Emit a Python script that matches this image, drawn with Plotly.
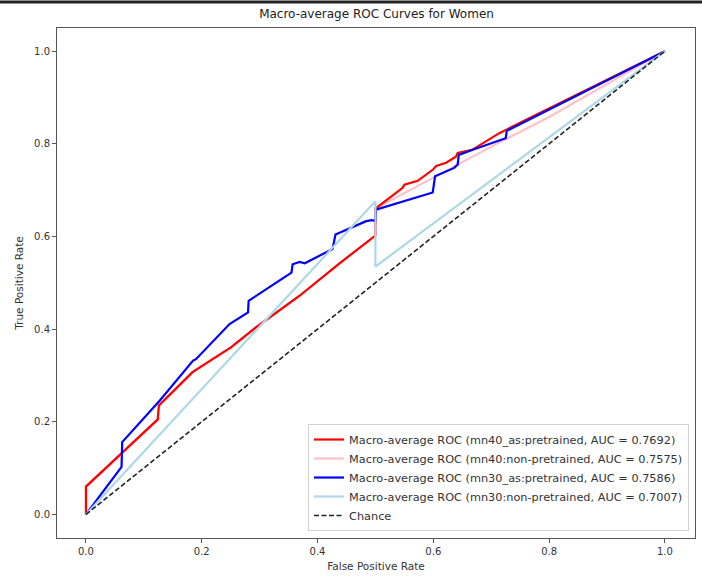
import plotly.graph_objects as go

# ---- data ----
red_fpr = [0.0, 0.0, 0.124, 0.126, 0.184, 0.251, 0.294, 0.369, 0.438, 0.5, 0.5, 0.53, 0.547, 0.55, 0.573, 0.6, 0.605, 0.622, 0.639, 0.642, 0.667, 0.714, 1.0]
red_tpr = [0.0, 0.06, 0.205, 0.235, 0.307, 0.361, 0.404, 0.472, 0.542, 0.602, 0.66, 0.69, 0.705, 0.712, 0.72, 0.745, 0.752, 0.759, 0.772, 0.78, 0.787, 0.823, 1.0]

pink_fpr = [0.0, 0.0, 0.124, 0.126, 0.184, 0.251, 0.294, 0.369, 0.438, 0.5, 0.5, 0.691, 0.8, 1.0]
pink_tpr = [0.0, 0.06, 0.205, 0.235, 0.307, 0.361, 0.404, 0.472, 0.542, 0.602, 0.66, 0.788, 0.858, 1.0]

blue_fpr = [0.0, 0.0615, 0.0626, 0.1276, 0.185, 0.19, 0.248, 0.28, 0.281, 0.355, 0.357, 0.369, 0.378, 0.426, 0.431, 0.484, 0.494, 0.5, 0.501, 0.524, 0.553, 0.599, 0.603, 0.636, 0.642, 0.644, 0.668, 0.714, 0.725, 0.727, 1.0]
blue_tpr = [0.0, 0.1026, 0.156, 0.246, 0.332, 0.335, 0.411, 0.436, 0.461, 0.522, 0.54, 0.545, 0.542, 0.573, 0.604, 0.633, 0.635, 0.633, 0.658, 0.667, 0.678, 0.695, 0.73, 0.748, 0.755, 0.776, 0.787, 0.806, 0.812, 0.828, 1.0]

lblue_fpr = [0.0, 0.5, 0.5, 1.0]
lblue_tpr = [0.0, 0.676, 0.535, 1.0]

chance_x = [0.0, 1.0]
chance_y = [0.0, 1.0]

names = [
    "Macro-average ROC (mn40_as:pretrained, AUC = 0.7692)",
    "Macro-average ROC (mn40:non-pretrained, AUC = 0.7575)",
    "Macro-average ROC (mn30_as:pretrained, AUC = 0.7586)",
    "Macro-average ROC (mn30:non-pretrained, AUC = 0.7007)",
    "Chance",
]

x_ticks = [0.0, 0.2, 0.4, 0.6, 0.8, 1.0]
y_ticks = [0.0, 0.2, 0.4, 0.6, 0.8, 1.0]
x_ticktext = ["0.0", "0.2", "0.4", "0.6", "0.8", "1.0"]
y_ticktext = ["0.0", "0.2", "0.4", "0.6", "0.8", "1.0"]

FONT = "DejaVu Sans"

fig = go.Figure()
fig.add_trace(go.Scatter(x=pink_fpr, y=pink_tpr, mode="lines", name=names[1], legendrank=2,
                         line=dict(color="#FFC0CB", width=2.2)))
fig.add_trace(go.Scatter(x=red_fpr, y=red_tpr, mode="lines", name=names[0], legendrank=1,
                         line=dict(color="#FF0000", width=2.2)))
fig.add_trace(go.Scatter(x=blue_fpr, y=blue_tpr, mode="lines", name=names[2], legendrank=3,
                         line=dict(color="#0000FF", width=2.2)))
fig.add_trace(go.Scatter(x=lblue_fpr, y=lblue_tpr, mode="lines", name=names[3], legendrank=4,
                         line=dict(color="#ADD8E6", width=2.2)))
fig.add_trace(go.Scatter(x=chance_x, y=chance_y, mode="lines", name=names[4], legendrank=5,
                         line=dict(color="#222222", width=1.6, dash="5px,2.5px")))

axis_common = dict(showline=True, linecolor="#555555", linewidth=1, mirror=True,
                   showgrid=False, zeroline=False, ticks="outside", ticklen=4,
                   tickcolor="#555555", tickfont=dict(family=FONT, size=10, color="#333333"))

fig.update_layout(
    width=702, height=576,
    margin=dict(l=57, r=6, t=28, b=36),
    paper_bgcolor="white", plot_bgcolor="white",
    font=dict(family=FONT, color="#222222"),
    title=dict(text="Macro-average ROC Curves for Women", x=(57 + 639 / 2) / 702, xanchor="center",
               y=1 - 14 / 576, yanchor="middle", font=dict(family=FONT, size=12, color="#222222")),
    xaxis=dict(range=[-0.05, 1.052], tickvals=x_ticks, ticktext=x_ticktext,
               title=dict(text="False Positive Rate", font=dict(family=FONT, size=10.5, color="#333333"), standoff=6),
               **axis_common),
    yaxis=dict(range=[-0.051, 1.05], tickvals=y_ticks, ticktext=y_ticktext,
               title=dict(text="True Positive Rate", font=dict(family=FONT, size=10.5, color="#333333"), standoff=8),
               **axis_common),
    legend=dict(x=0.9906, xanchor="right", y=0.0137, yanchor="bottom",
                bgcolor="rgba(255,255,255,0.85)", bordercolor="#d0d0d0", borderwidth=1,
                font=dict(family=FONT, size=11.3, color="#333333"), tracegroupgap=0,
                itemwidth=30),
    showlegend=True,
)

# dark band at the very top of the screenshot
fig.add_shape(type="line", xref="paper", yref="paper", x0=-0.2, x1=1.2,
              y0=(540 - 2) / 512, y1=(540 - 2) / 512, line=dict(color="#222222", width=3))

fig.write_html("out.html", config={"displayModeBar": False},
               post_script="document.body.style.margin='0';document.body.style.padding='0';document.body.style.overflow='hidden';")
